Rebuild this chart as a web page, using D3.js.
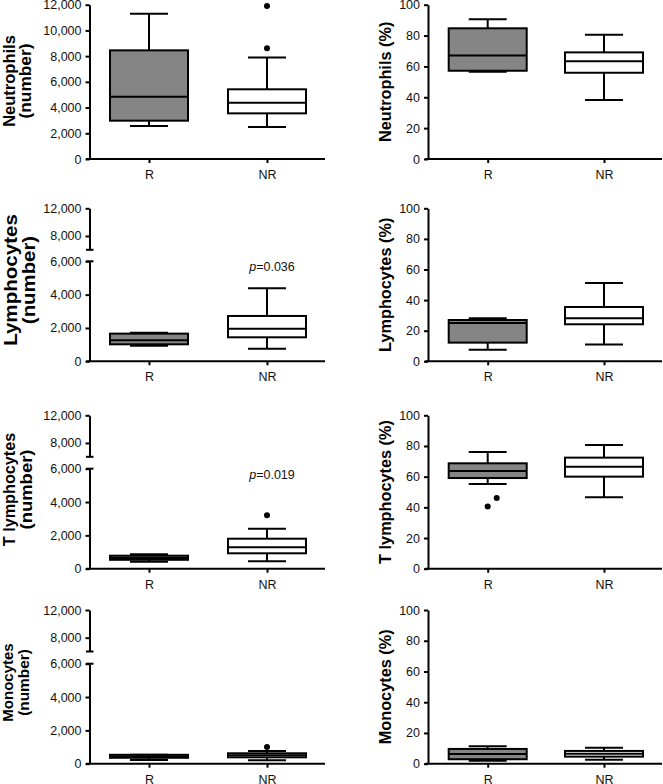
<!DOCTYPE html>
<html><head><meta charset="utf-8">
<script src="https://cdn.jsdelivr.net/npm/d3@7"></script>
<style>
body{margin:0;background:#fff}
svg{display:block}
text{font-family:"Liberation Sans",Arial,Helvetica,sans-serif}
</style>
</head><body>
<svg id="chart" width="663" height="784"></svg>
<script>
// ---------------- data ----------------
const categories = ["R", "NR"];
const countTicksFull = [0, 2000, 4000, 6000, 8000, 10000, 12000];
const countTicksLower = [0, 2000, 4000, 6000];
const countTicksUpper = [8000, 12000];
const pctTicks = [0, 20, 40, 60, 80, 100];

const leftLabels = [["Neutrophils", "(number)"], ["Lymphocytes", "(number)"], ["T lymphocytes", "(number)"], ["Monocytes", "(number)"]];
const rightLabels = ["Neutrophils (%)", "Lymphocytes (%)", "T lymphocytes (%)", "Monocytes (%)"];
const pValues = [null, "0.036", "0.019", null];

// box stats: [min, q1, median, q3, max]
const neutrophilsCountR = [2570, 2980, 4850, 8450, 11300];
const neutrophilsCountNR = [2490, 3550, 4380, 5420, 7900];
const neutrophilsCountOutR = [];
const neutrophilsCountOutNR = [8610, 11900];

const neutrophilsPctR = [56.6, 57.2, 67.0, 84.7, 90.5];
const neutrophilsPctNR = [38.2, 55.9, 63.3, 69.1, 80.6];
const neutrophilsPctOutR = [];
const neutrophilsPctOutNR = [];

const lymphocytesCountR = [940, 1020, 1260, 1660, 1720];
const lymphocytesCountNR = [760, 1440, 1960, 2720, 4380];
const lymphocytesCountOutR = [];
const lymphocytesCountOutNR = [];

const lymphocytesPctR = [7.6, 12.2, 25.0, 27.0, 28.1];
const lymphocytesPctNR = [10.9, 24.2, 28.1, 35.5, 51.2];
const lymphocytesPctOutR = [];
const lymphocytesPctOutNR = [];

const tLymphCountR = [420, 534, 642, 780, 864];
const tLymphCountNR = [444, 924, 1284, 1800, 2400];
const tLymphCountOutR = [];
const tLymphCountOutNR = [3200];

const tLymphPctR = [55.2, 59.1, 63.7, 68.7, 76.0];
const tLymphPctNR = [46.5, 60.0, 66.5, 72.4, 80.6];
const tLymphPctOutR = [40.6, 46.1];
const tLymphPctOutNR = [];

const monocytesCountR = [222, 354, 432, 534, 540];
const monocytesCountNR = [204, 384, 504, 624, 762];
const monocytesCountOutR = [];
const monocytesCountOutNR = [1000];

const monocytesPctR = [2.0, 2.9, 6.3, 9.6, 11.3];
const monocytesPctNR = [2.6, 4.6, 6.5, 8.3, 10.4];
const monocytesPctOutR = [];
const monocytesPctOutNR = [];

// ---------------- layout ----------------
const countPanels = [
  {R: neutrophilsCountR, NR: neutrophilsCountNR, oR: neutrophilsCountOutR, oNR: neutrophilsCountOutNR},
  {R: lymphocytesCountR, NR: lymphocytesCountNR, oR: lymphocytesCountOutR, oNR: lymphocytesCountOutNR},
  {R: tLymphCountR, NR: tLymphCountNR, oR: tLymphCountOutR, oNR: tLymphCountOutNR},
  {R: monocytesCountR, NR: monocytesCountNR, oR: monocytesCountOutR, oNR: monocytesCountOutNR}
];
const pctPanels = [
  {R: neutrophilsPctR, NR: neutrophilsPctNR, oR: neutrophilsPctOutR, oNR: neutrophilsPctOutNR},
  {R: lymphocytesPctR, NR: lymphocytesPctNR, oR: lymphocytesPctOutR, oNR: lymphocytesPctOutNR},
  {R: tLymphPctR, NR: tLymphPctNR, oR: tLymphPctOutR, oNR: tLymphPctOutNR},
  {R: monocytesPctR, NR: monocytesPctNR, oR: monocytesPctOutR, oNR: monocytesPctOutNR}
];

const rowTop = [4.7, 208.3, 415.3, 610];
const rowBottom = [159, 361.3, 568.7, 763.7];
const leftAxisX = 89.5, rightAxisX = 428;
const leftXLine = [86, 325], rightXLine = [425, 662];
const leftCenters = [149, 267], rightCenters = [487.7, 604];
const boxHalf = 39, capHalf = 19;
const fillColors = {R: "#858585", NR: "#ffffff"};
const leftLabelFont = [17, 19, 17, 15.5];
const leftLabelBase = [[14.5, 31], [16.5, 35], [14.5, 32], [13, 29]];
const leftLabelCY = [81, 280, 489.5, 682.5];
const leftLabelLen = [[91.7, 75], [131.7, 88.3], [113.3, 80], [78.3, 66.7]];
const rightLabelFont = 16.3;
const rightLabelBase = 391;

const svg = d3.select("#chart");
const fmt = d3.format(",");

function styleAxis(g) {
  g.attr("font-family", null).attr("font-size", null);
  g.select(".domain").attr("stroke", "#000").attr("stroke-width", 2);
  g.selectAll(".tick line").attr("stroke", "#000").attr("stroke-width", 2);
  g.selectAll(".tick text").attr("fill", "#111").style("font-size", "12.5px")
    .style("font-family", '"Liberation Sans",Arial,sans-serif');
}

function drawBox(g, cx, y, s, outl, fill) {
  const [mn, q1, md, q3, mx] = s;
  const ln = (x1, y1, x2, y2) => g.append("line").attr("x1", x1).attr("y1", y1).attr("x2", x2).attr("y2", y2)
      .attr("stroke", "#000").attr("stroke-width", 2);
  ln(cx, y(mx), cx, y(q3));
  ln(cx, y(q1), cx, y(mn));
  ln(cx - capHalf, y(mx), cx + capHalf, y(mx));
  ln(cx - capHalf, y(mn), cx + capHalf, y(mn));
  g.append("rect").attr("x", cx - boxHalf).attr("y", y(q3)).attr("width", boxHalf * 2)
    .attr("height", Math.max(0.5, y(q1) - y(q3))).attr("fill", fill).attr("stroke", "#000").attr("stroke-width", 2);
  ln(cx - boxHalf, y(md), cx + boxHalf, y(md));
  // outliers, dodged if crowded
  const sorted = outl.slice().sort((a, b) => a - b);
  let prevY = null, shift = 0;
  sorted.forEach(v => {
    const py = y(v);
    if (prevY !== null && Math.abs(prevY - py) < 12) shift += 9; else shift = 0;
    g.append("circle").attr("cx", cx + shift).attr("cy", py).attr("r", 3).attr("fill", "#000");
    prevY = py;
  });
}

function drawXAxis(x, line, bottom) {
  const gx = svg.append("g").attr("transform", `translate(0,${bottom})`)
    .call(d3.axisBottom(x).tickSize(4).tickPadding(7).tickSizeOuter(0));
  styleAxis(gx);
  gx.select(".domain").remove();
  gx.append("line").attr("x1", line[0]).attr("x2", line[1]).attr("y1", 0).attr("y2", 0)
    .attr("stroke", "#000").attr("stroke-width", 2);
}

// ---------- left column (counts) ----------
countPanels.forEach((p, r) => {
  const top = rowTop[r], bot = rowBottom[r];
  const x = d3.scalePoint().domain(categories).range(leftCenters);
  let y;
  if (r === 0) {
    const ys = d3.scaleLinear().domain([0, 12000]).range([bot, top]);
    y = ys;
    const gy = svg.append("g").attr("transform", `translate(${leftAxisX},0)`)
      .call(d3.axisLeft(ys).tickValues(countTicksFull).tickFormat(fmt).tickSize(4).tickPadding(4).tickSizeOuter(0));
    styleAxis(gy);
  } else {
    const yLow = d3.scaleLinear().domain([0, 6000]).range([bot, bot - 100]);
    const yUp = d3.scaleLinear().domain([6000, 12000]).range([top + 41.5, top]);
    y = v => (v <= 6000 ? yLow(v) : yUp(v));
    const gl = svg.append("g").attr("transform", `translate(${leftAxisX},0)`)
      .call(d3.axisLeft(yLow).tickValues(countTicksLower).tickFormat(fmt).tickSize(4).tickPadding(4).tickSizeOuter(0));
    styleAxis(gl);
    const gu = svg.append("g").attr("transform", `translate(${leftAxisX},0)`)
      .call(d3.axisLeft(yUp).tickValues(countTicksUpper).tickFormat(fmt).tickSize(4).tickPadding(4).tickSizeOuter(0));
    styleAxis(gu);
    // break caps
    [yUp(6000), yLow(6000)].forEach(by => {
      svg.append("line").attr("x1", leftAxisX - 3.5).attr("x2", leftAxisX + 4).attr("y1", by).attr("y2", by)
        .attr("stroke", "#000").attr("stroke-width", 2);
    });
    if (pValues[r]) {
      const t = svg.append("text").attr("x", x("NR") + 5).attr("y", yLow(6000) + 10)
        .attr("text-anchor", "middle").style("font-size", "12.5px").attr("fill", "#111");
      t.append("tspan").style("font-style", "italic").text("p");
      t.append("tspan").text("=" + pValues[r]);
    }
  }
  drawXAxis(x, leftXLine, bot);
  categories.forEach(c => {
    drawBox(svg.append("g"), x(c), y, p[c], c === "R" ? p.oR : p.oNR, fillColors[c]);
  });
  // y label (two lines)
  leftLabels[r].forEach((txt, i) => {
    svg.append("text")
      .attr("transform", `translate(${leftLabelBase[r][i]},${leftLabelCY[r]}) rotate(-90)`)
      .attr("text-anchor", "middle").style("font-weight", "bold").style("font-size", leftLabelFont[r] + "px")
      .attr("textLength", leftLabelLen[r][i]).attr("lengthAdjust", "spacingAndGlyphs")
      .attr("fill", "#000").text(txt);
  });
});

// ---------- right column (percent) ----------
pctPanels.forEach((p, r) => {
  const top = rowTop[r], bot = rowBottom[r];
  const x = d3.scalePoint().domain(categories).range(rightCenters);
  const y = d3.scaleLinear().domain([0, 100]).range([bot, top]);
  const gy = svg.append("g").attr("transform", `translate(${rightAxisX},0)`)
    .call(d3.axisLeft(y).tickValues(pctTicks).tickSize(4).tickPadding(4).tickSizeOuter(0));
  styleAxis(gy);
  drawXAxis(x, rightXLine, bot);
  categories.forEach(c => {
    drawBox(svg.append("g"), x(c), y, p[c], c === "R" ? p.oR : p.oNR, fillColors[c]);
  });
  svg.append("text")
    .attr("transform", `translate(${rightLabelBase},${(top + bot) / 2}) rotate(-90)`)
    .attr("text-anchor", "middle").style("font-weight", "bold").style("font-size", rightLabelFont + "px")
    .attr("fill", "#000").text(rightLabels[r]);
});
</script>
</body></html>
